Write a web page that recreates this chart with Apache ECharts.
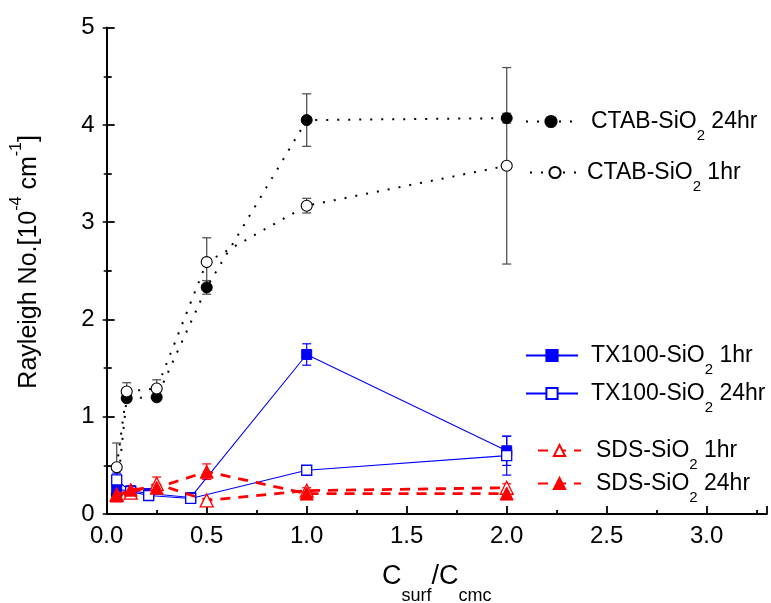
<!DOCTYPE html>
<html>
<head>
<meta charset="utf-8">
<script src="https://cdn.jsdelivr.net/npm/echarts@6/dist/echarts.min.js"></script>
<style>
  html, body { margin: 0; padding: 0; background: #fff; }
  #chart { width: 771px; height: 603px; }
</style>
</head>
<body>
<div id="chart"></div>
<script>
// Rayleigh number vs. surfactant concentration ratio, with error bars
const xTicks = [0.0, 0.5, 1.0, 1.5, 2.0, 2.5, 3.0];
const yTicks = [0, 1, 2, 3, 4, 5];

// CTAB-SiO2
const ctab24X = [0.05, 0.1, 0.25, 0.5, 1.0, 2.0];
const ctab24Y = [0.2, 1.19, 1.2, 2.33, 4.05, 4.07];
const ctab24E = [0.03, 0.03, 0.03, 0.07, 0.27, 0.05];
const ctab1X = [0.05, 0.1, 0.25, 0.5, 1.0, 2.0];
const ctab1Y = [0.48, 1.26, 1.29, 2.59, 3.17, 3.58];
const ctab1E = [0.25, 0.09, 0.09, 0.25, 0.075, 1.01];

// TX100-SiO2
const tx1X = [0.05, 0.12, 0.21, 0.42, 1.0, 2.0];
const tx1Y = [0.25, 0.24, 0.21, 0.17, 1.64, 0.65];
const tx1E = [0.05, 0.03, 0.03, 0.03, 0.11, 0.15];
const tx24X = [0.05, 0.12, 0.21, 0.42, 1.0, 2.0];
const tx24Y = [0.35, 0.23, 0.19, 0.16, 0.45, 0.6];
const tx24E = [0.07, 0.03, 0.03, 0.03, 0.02, 0.2];

// SDS-SiO2
const sds1X = [0.05, 0.12, 0.25, 0.5, 1.0, 2.0];
const sds1Y = [0.2, 0.22, 0.31, 0.14, 0.24, 0.27];
const sds1E = [0.05, 0.03, 0.07, 0.02, 0.03, 0.04];
const sds24X = [0.05, 0.12, 0.25, 0.5, 1.0, 2.0];
const sds24Y = [0.19, 0.25, 0.27, 0.435, 0.21, 0.21];
const sds24E = [0.05, 0.02, 0.03, 0.08, 0.02, 0.02];

const FONT = 'Liberation Sans, Arial, sans-serif';
const BLUE = '#0000ff';
const RED = '#ff0000';

const pts = (xs, ys) => xs.map((x, i) => [x, ys[i]]);
const errPts = (xs, ys, es) => xs.map((x, i) => [x, ys[i], es[i]]);

function errorBars(color, width) {
  return function (params, api) {
    const x = api.value(0), y = api.value(1), e = api.value(2);
    const top = api.coord([x, y + e]);
    const bot = api.coord([x, y - e]);
    const hw = 4.5;
    const st = { stroke: color, lineWidth: width };
    return {
      type: 'group',
      children: [
        { type: 'line', shape: { x1: top[0], y1: top[1], x2: bot[0], y2: bot[1] }, style: st },
        { type: 'line', shape: { x1: top[0] - hw, y1: top[1], x2: top[0] + hw, y2: top[1] }, style: st },
        { type: 'line', shape: { x1: bot[0] - hw, y1: bot[1], x2: bot[0] + hw, y2: bot[1] }, style: st }
      ]
    };
  };
}

function errSeries(xs, ys, es, color, width) {
  return {
    type: 'custom',
    renderItem: errorBars(color, width),
    data: errPts(xs, ys, es),
    encode: { x: 0, y: 1 },
    z: 1,
    silent: true
  };
}

const legendRich = {
  m: { fontSize: 23, fontFamily: FONT, color: '#000', lineHeight: 44, verticalAlign: 'middle' },
  s: { fontSize: 15, fontFamily: FONT, color: '#000', lineHeight: 22, verticalAlign: 'bottom' },
  sp: { width: 10, fontSize: 10 },
  sp2: { width: 2, fontSize: 10 },
  sp8: { width: 8, fontSize: 10 }
};

function legendFor(name, left, centerY, itemWidth, spacer) {
  const parts = name.split('SiO2');
  return {
    data: [name],
    left: left,
    top: centerY - 11,
    padding: 0,
    itemWidth: itemWidth,
    itemHeight: 14,
    selectedMode: false,
    formatter: () => '{' + spacer + '| }{m|' + parts[0] + 'SiO}{s|2}{m|' + parts[1] + '}',
    textStyle: { rich: legendRich }
  };
}

const option = {
  animation: false,
  backgroundColor: '#fff',
  grid: { left: 106.7, right: 4.3, top: 27.7, bottom: 89, outerBoundsMode: 'none' },
  xAxis: [{
    type: 'value', min: 0, max: 3.3, interval: 0.5,
    axisLine: { lineStyle: { color: '#000', width: 1.8 } },
    axisTick: { inside: true, length: 8, lineStyle: { color: '#000', width: 1.8 } },
    minorTick: { show: true, splitNumber: 2, length: 4, lineStyle: { color: '#000', width: 1.8 } },
    splitLine: { show: false },
    axisLabel: {
      margin: 10, color: '#000', fontSize: 24, fontFamily: FONT,
      formatter: v => xTicks.some(t => Math.abs(t - v) < 1e-9) ? v.toFixed(1) : '',
      showMaxLabel: false
    },
    name: '{m|C}{s|surf}{m|/C}{s|cmc}',
    nameLocation: 'middle',
    nameGap: 35,
    nameMoveOverlap: false,
    nameTextStyle: {
      rich: {
        m: { fontSize: 27, fontFamily: FONT, color: '#000', lineHeight: 56, verticalAlign: 'middle' },
        s: { fontSize: 18, fontFamily: FONT, color: '#000', lineHeight: 34, verticalAlign: 'bottom' }
      }
    }
  }, {
    type: 'value', min: 0, max: 3.3, position: 'top',
    axisLine: { show: true, lineStyle: { color: '#000', width: 1.8 } },
    axisTick: { show: false },
    axisLabel: { show: false },
    splitLine: { show: false }
  }],
  yAxis: [{
    type: 'value', min: 0, max: 5, interval: 1,
    axisLine: { show: true, lineStyle: { color: '#000', width: 1.8 } },
    axisTick: { show: true, inside: true, length: 8, lineStyle: { color: '#000', width: 1.8 } },
    minorTick: { show: true, splitNumber: 2, length: 5, lineStyle: { color: '#000', width: 1.8 } },
    splitLine: { show: false },
    axisLabel: {
      margin: 12, color: '#000', fontSize: 24, fontFamily: FONT,
      formatter: v => yTicks.indexOf(v) >= 0 ? String(v) : ''
    },
    name: '{m|Rayleigh No.[10}{p|-4}{m| cm}{p|-1}{m|]}',
    nameLocation: 'middle',
    nameGap: 58,
    nameMoveOverlap: false,
    nameTextStyle: {
      padding: [0, 0, 0, 18],
      rich: {
        m: { fontSize: 25, fontFamily: FONT, color: '#000', lineHeight: 40, verticalAlign: 'middle' },
        p: { fontSize: 16, fontFamily: FONT, color: '#000', lineHeight: 22, verticalAlign: 'top' }
      }
    }
  }, {
    type: 'value', min: 0, max: 5, interval: 1, position: 'right',
    axisLine: { show: true, lineStyle: { color: '#000', width: 1.8 } },
    axisTick: { show: true, inside: true, length: 4, lineStyle: { color: '#000', width: 1.5 } },
    minorTick: { show: true, splitNumber: 2, length: 3, lineStyle: { color: '#000', width: 1.5 } },
    axisLabel: { show: false },
    splitLine: { show: false }
  }],
  legend: [
    legendFor('CTAB-SiO2 24hr', 525, 121, 50, 'sp'),
    legendFor('CTAB-SiO2 1hr', 529, 172, 50, 'sp2'),
    legendFor('TX100-SiO2 1hr', 525, 355, 52, 'sp8'),
    legendFor('TX100-SiO2 24hr', 525, 393, 52, 'sp8'),
    legendFor('SDS-SiO2 1hr', 537, 450, 43, 'sp'),
    legendFor('SDS-SiO2 24hr', 537, 483, 43, 'sp')
  ],
  series: [
    errSeries(ctab24X, ctab24Y, ctab24E, '#555', 1.3),
    errSeries(ctab1X, ctab1Y, ctab1E, '#555', 1.3),
    errSeries(tx1X, tx1Y, tx1E, BLUE, 1.2),
    errSeries(tx24X, tx24Y, tx24E, BLUE, 1.2),
    errSeries(sds1X, sds1Y, sds1E, RED, 1.2),
    errSeries(sds24X, sds24Y, sds24E, RED, 1.2),
    {
      name: 'CTAB-SiO2 24hr', type: 'line', data: pts(ctab24X, ctab24Y), z: 3,
      symbol: 'circle', symbolSize: 11,
      itemStyle: { color: '#000', borderColor: '#000', borderWidth: 1 },
      lineStyle: { color: '#000', width: 2, type: [2, 9] }
    },
    {
      name: 'CTAB-SiO2 1hr', type: 'line', data: pts(ctab1X, ctab1Y), z: 3,
      symbol: 'circle', symbolSize: 11,
      itemStyle: { color: '#fff', borderColor: '#000', borderWidth: 1.1 },
      lineStyle: { color: '#000', width: 2, type: [2, 9] }
    },
    {
      name: 'TX100-SiO2 1hr', type: 'line', data: pts(tx1X, tx1Y), z: 4,
      symbol: 'rect', symbolSize: 10,
      itemStyle: { color: BLUE, borderColor: BLUE, borderWidth: 1 },
      lineStyle: { color: BLUE, width: 1.1 }
    },
    {
      name: 'TX100-SiO2 24hr', type: 'line', data: pts(tx24X, tx24Y), z: 4,
      symbol: 'rect', symbolSize: 10,
      itemStyle: { color: '#fff', borderColor: BLUE, borderWidth: 1.3 },
      lineStyle: { color: BLUE, width: 1.1 }
    },
    {
      name: 'SDS-SiO2 1hr', type: 'line', data: pts(sds1X, sds1Y), z: 5,
      symbol: 'triangle', symbolSize: 13,
      itemStyle: { color: '#fff', borderColor: RED, borderWidth: 1.3 },
      lineStyle: { color: RED, width: 2.8, type: [10, 8] }
    },
    {
      name: 'SDS-SiO2 24hr', type: 'line', data: pts(sds24X, sds24Y), z: 5,
      symbol: 'triangle', symbolSize: 13,
      itemStyle: { color: RED, borderColor: RED, borderWidth: 1 },
      lineStyle: { color: RED, width: 2.8, type: [10, 8] }
    }
  ]
};

const chart = echarts.init(document.getElementById('chart'), null, { renderer: 'canvas' });
chart.setOption(option);
</script>
</body>
</html>
